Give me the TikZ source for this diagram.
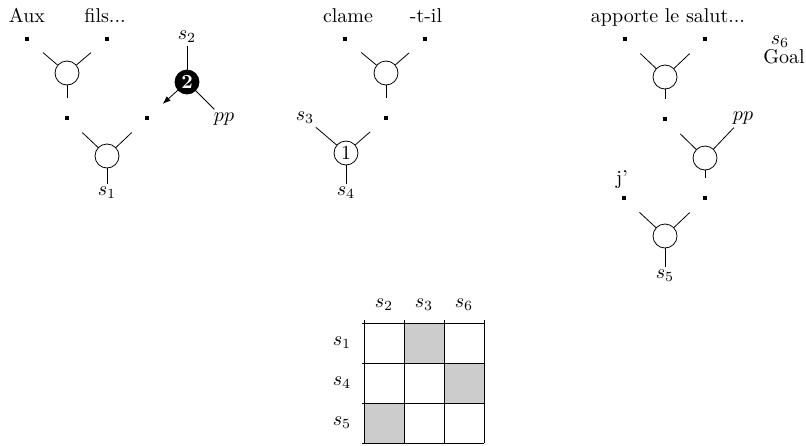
\documentclass[tikz,border=0pt]{standalone}
\usetikzlibrary{arrows.meta}

\tikzset{
  leaf/.style={fill, inner sep=0pt, minimum size=1.9pt},
  hub/.style={circle, draw, inner sep=0pt, minimum size=12pt},
  goalhub/.style={hub, fill=black, text=white, font=\bfseries},
  lbl/.style={inner sep=1.5pt},
  stub/.style={shorten >=9pt},
}

\begin{document}
\begin{tikzpicture}[x=0.5pt, y=-0.5pt, >={Latex[length=4pt,width=3pt]}]
  \useasboundingbox (0,0) rectangle (806,445);

  % left tree
  \node[anchor=base] (aux) at (27,22) {Aux};
  \node[anchor=base] (fils) at (105,22) {fils...};
  \node[leaf] (aux0) at (27,39) {};
  \node[leaf] (fils0) at (107,39) {};
  \node[hub] (h1) at (67,73) {};
  \node[leaf] (h1out) at (67,118) {};
  \node[leaf] (s2in) at (147,118) {};
  \node[hub] (h2) at (107,156) {};
  \node[lbl] (s1) at (107,193) {$s_1$};
  \draw[stub] (h1) -- (aux0);
  \draw[stub] (h1) -- (fils0);
  \draw[stub] (h1) -- (h1out);
  \draw[stub] (h2) -- (h1out);
  \draw[stub] (h2) -- (s2in);
  \draw (h2) -- (s1);

  \node[goalhub] (g2) at (187,82) {2};
  \node[lbl] (s2) at (187,37) {$s_2$};
  \node[lbl] (pp1) at (224,119) {$pp$};
  \draw (g2) -- (s2);
  \draw (g2) -- (pp1);
  \draw[->, stub] (g2) -- (s2in);

  % middle tree
  \node[anchor=base] (clame) at (348,22) {clame};
  \node[anchor=base] (til) at (426,22) {-t-il};
  \node[leaf] (clame0) at (345,39) {};
  \node[leaf] (til0) at (425,39) {};
  \node[hub] (h3) at (386,73) {};
  \node[leaf] (h3out) at (386,118) {};
  \node[hub] (g1) at (346,153) {1};
  \node[lbl] (s3) at (305,118) {$s_3$};
  \node[lbl] (s4) at (346,193) {$s_4$};
  \draw[stub] (h3) -- (clame0);
  \draw[stub] (h3) -- (til0);
  \draw[stub] (h3) -- (h3out);
  \draw[stub] (g1) -- (h3out);
  \draw (g1) -- (s3);
  \draw (g1) -- (s4);

  % right tree
  \node[anchor=base] (salut) at (668,22) {apporte le salut...};
  \node[leaf] (salut0) at (625,39) {};
  \node[leaf] (salut1) at (705,39) {};
  \node[hub] (h4) at (665,77) {};
  \node[leaf] (h4out) at (665,119) {};
  \node[hub] (h5) at (705,158) {};
  \node[lbl] (pp2) at (743,118) {$pp$};
  \node[leaf] (h5out) at (705,198) {};
  \node[lbl] (japo) at (622,180) {j'};
  \node[leaf] (j0) at (624,198) {};
  \node[hub] (h6) at (665,236) {};
  \node[lbl] (s5) at (665,276) {$s_5$};
  \draw[stub] (h4) -- (salut0);
  \draw[stub] (h4) -- (salut1);
  \draw[stub] (h4) -- (h4out);
  \draw[stub] (h5) -- (h4out);
  \draw (h5) -- (pp2);
  \draw[stub] (h5) -- (h5out);
  \draw[stub] (h6) -- (j0);
  \draw[stub] (h6) -- (h5out);
  \draw (h6) -- (s5);

  \node (s6) at (780,42) {$s_6$};
  \node (goal) at (784,57) {Goal};

  % matrix
  \begin{scope}[shift={(364,323)}]
    \fill[gray!40] (40,0) rectangle (80,40);
    \fill[gray!40] (80,40) rectangle (120,80);
    \fill[gray!40] (0,80) rectangle (40,120);
    \foreach \i in {0,...,3} {
      \draw (40*\i,-3) -- (40*\i,120);
      \draw (-2,40*\i) -- (120,40*\i);
    }
    \foreach \lab [count=\c] in {s_2,s_3,s_6}
      \node (col\c) at (40*\c-20,-18) {$\lab$};
    \foreach \lab [count=\r] in {s_1,s_4,s_5}
      \node (row\r) at (-22,40*\r-20) {$\lab$};
  \end{scope}
\end{tikzpicture}
\end{document}
